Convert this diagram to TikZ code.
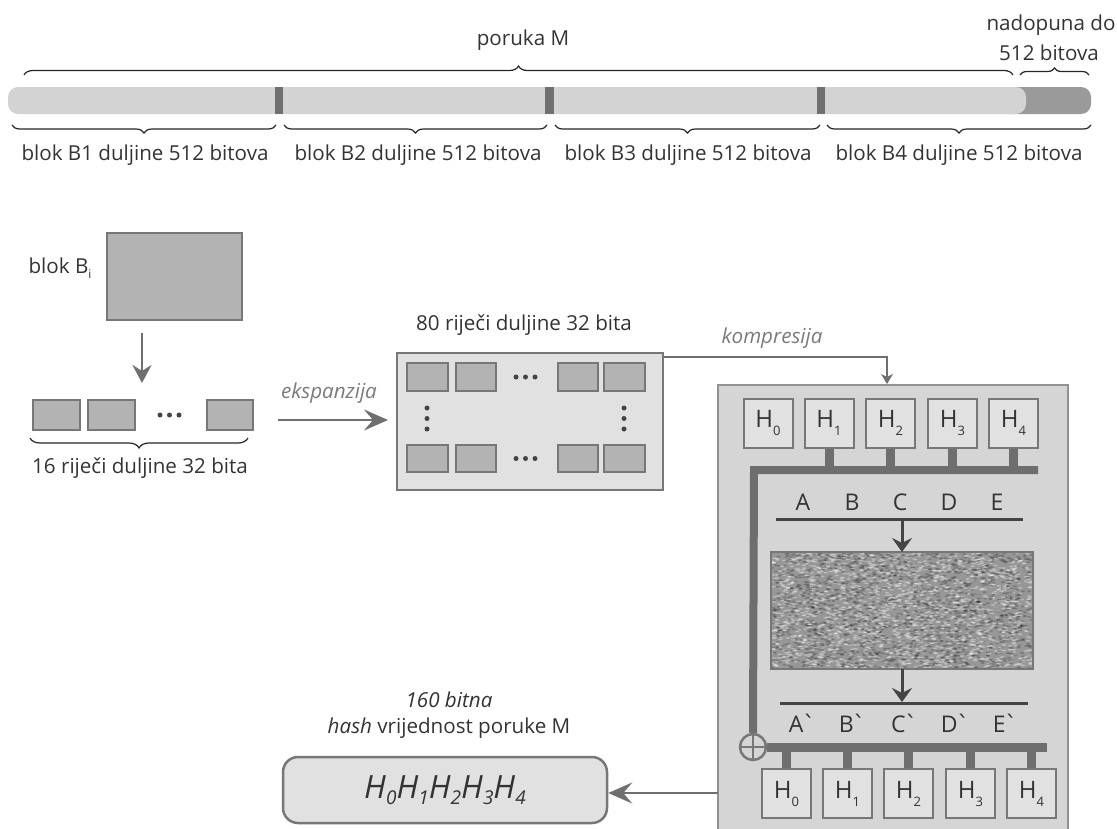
\documentclass[tikz,border=0pt]{standalone}
\usepackage{fontspec}
\setmainfont{Open Sans}
\newfontfamily\djv{DejaVu Sans}
\usetikzlibrary{arrows.meta,decorations.pathreplacing}
\definecolor{txt}{HTML}{333333}
\definecolor{cbar}{HTML}{D3D3D3}
\definecolor{cpad}{HTML}{9A9A9A}
\definecolor{cdiv}{HTML}{707070}
\definecolor{cblk}{HTML}{B3B3B3}
\definecolor{cbrd}{HTML}{777777}
\definecolor{clite}{HTML}{E1E1E1}
\definecolor{ccomp}{HTML}{D5D5D5}
\definecolor{cbus}{HTML}{6E6E6E}
\definecolor{cdark}{HTML}{444444}
\definecolor{carr}{HTML}{6F6F6F}
\definecolor{clab}{HTML}{7A7A7A}
\definecolor{ctex}{HTML}{979797}
\tikzset{
  lbl/.style={text=txt, inner sep=0pt, font=\fontsize{20.6}{24}\selectfont},
  ital/.style={text=clab, inner sep=0pt, font=\fontsize{20.6}{24}\selectfont\itshape},
  word/.style={draw=cbrd, fill=cblk, line width=2pt, inner sep=0pt},
  wlite/.style={draw=cbrd, fill=clite, line width=2pt, inner sep=0pt},
  hbox/.style={draw=cbrd, fill=clite, line width=2pt, inner sep=0pt, minimum width=49pt, minimum height=49pt, text=txt, font=\fontsize{24}{26}\selectfont},
  brc/.style={decorate, decoration={brace, amplitude=#1}, line width=1.2pt, draw=black!85},
  brc/.default=8pt,
  garrow/.style={draw=carr, line width=2.5pt, -{Stealth[length=24pt,width=21pt,inset=9pt]}},
  darrow/.style={draw=carr, line width=2.5pt, -{Stealth[length=18pt,width=19pt,inset=6pt]}},
  karrow/.style={draw=carr, line width=1.5pt, -{Stealth[length=10pt,width=12pt,inset=3pt]}},
  iarrow/.style={draw=cdark, line width=3pt, -{Stealth[length=14pt,width=20pt,inset=5pt]}},
  bus/.style={draw=cbus, line width=8pt},
  stub/.style={draw=cbus, line width=9pt},
  rail/.style={draw=cdark, line width=3pt},
  dot/.style={fill=cdark, circle, inner sep=0pt, minimum size=5pt},
  abc/.style={text=txt, inner sep=0pt, font=\fontsize{23}{26}\selectfont}
}
\newcommand{\Hs}[1]{H\raisebox{-8pt}{\fontsize{13}{13}\selectfont #1}}
\newcommand{\Hi}[1]{\textit{H}\raisebox{-6pt}{\fontsize{19}{19}\selectfont\itshape #1}}
\newcommand{\gr}{{\djv\symbol{"02CB}}}
\begin{document}
\begin{tikzpicture}[x=1pt,y=-1pt]
\useasboundingbox (0,0) rectangle (1117,828);

% ---------- top bar ----------
\fill[cpad, rounded corners=10pt] (1000,87) rectangle (1091,114);
\fill[cbar, rounded corners=10pt] (8,87) rectangle (1026,114);
\fill[cdiv] (275,87) rectangle (283,114);
\fill[cdiv] (545,87) rectangle (554,114);
\fill[cdiv] (817,87) rectangle (825,114);

\node[lbl] (pm) at (523,40) {poruka M};
\node[lbl] (nd) at (1051,25) {nadopuna do};
\node[lbl] (nd2) at (1049,53) {512 bitova};
\draw[brc=9pt] (24,75) -- (1013,75);
\draw[brc=7pt] (1020,75) -- (1089,75);

\draw[brc=8pt] (276,125) -- (12,125);
\draw[brc=8pt] (547,125) -- (284,125);
\draw[brc=8pt] (820,125) -- (555,125);
\draw[brc=8pt] (1091,125) -- (827,125);
\node[lbl] (b1) at (145,155) {blok B1 duljine 512 bitova};
\node[lbl] (b2) at (418,155) {blok B2 duljine 512 bitova};
\node[lbl] (b3) at (688,155) {blok B3 duljine 512 bitova};
\node[lbl] (b4) at (959,155) {blok B4 duljine 512 bitova};

% ---------- block Bi ----------
\node[lbl] (bil) at (60,268) {blok B\raisebox{-5pt}{\fontsize{12}{12}\selectfont i}};
\node[word, minimum width=135pt, minimum height=87pt] (bi) at (174.5,276.5) {};
\coordinate (a1) at (142,333);
\coordinate (a2) at (142,383);
\draw[darrow] (a1) -- (a2);

\node[word, minimum width=47pt, minimum height=30pt] (w1) at (56.5,415) {};
\node[word, minimum width=47pt, minimum height=30pt] (w2) at (111.5,415) {};
\node[word, minimum width=46pt, minimum height=30pt] (w3) at (230,415) {};
\node[dot] (d1) at (160,415) {};
\node[dot] (d2) at (169.5,415) {};
\node[dot] (d3) at (179,415) {};
\draw[brc=10pt] (248,438) -- (30,438);
\node[lbl] (w16) at (140,468) {16 riječi duljine 32 bita};

\node[ital] (eks) at (329,393) {ekspanzija};
\coordinate (e1) at (278,420);
\coordinate (e2) at (388,420);
\draw[garrow] (e1) -- (e2);

% ---------- 80 words ----------
\node[lbl] (w80) at (524,325) {80 riječi duljine 32 bita};
\node[wlite, minimum width=266pt, minimum height=137pt] (bx) at (530,421.5) {};
\foreach \n/\cx/\ww in {1/427.5/41, 2/476/40, 3/578/40, 4/624.5/41}{
  \node[word, minimum width=\ww pt, minimum height=28pt] (t\n) at (\cx,377) {};
  \node[word, minimum width=\ww pt, minimum height=27pt] (u\n) at (\cx,458.5) {};
}
\foreach \yy in {377, 458.5}{
  \node[dot] at (516,\yy) {};
  \node[dot] at (525.5,\yy) {};
  \node[dot] at (535,\yy) {};
}
\foreach \xx in {427,624}{
  \node[dot] at (\xx,408) {};
  \node[dot] at (\xx,418.5) {};
  \node[dot] at (\xx,429) {};
}

% ---------- compression box ----------
\node[draw=cbrd!80, fill=ccomp, line width=2pt, minimum width=350pt, minimum height=450pt, inner sep=0pt] (comp) at (893,610) {};
\node[ital] (kmp) at (772,338) {kompresija};
\coordinate (k1) at (887,357);
\draw[karrow] (bx.east |- k1) -- (k1) -- (k1 |- comp.north);

\foreach \n/\cx in {0/768,1/829,2/890.5,3/952.5,4/1013.5}{
  \node[hbox] (h\n) at (\cx,423) {\Hs{\n}};
}
\foreach \n in {1,2,3,4}{
  \draw[stub] (h\n.south) -- ++(0,22);
}
\node[draw=cbrd, fill=ccomp, line width=2.5pt, circle, minimum size=26pt, inner sep=0pt] (xo) at (753,747) {};
\draw[cbrd, line width=2.5pt] (xo.north) -- (xo.south) (xo.west) -- (xo.east);
\draw[bus] (1038,470) -- (754,470) -- (xo.north);

\node[abc] at (803,502) {A};
\node[abc] at (852,502) {B};
\node[abc] at (900,502) {C};
\node[abc] at (949,502) {D};
\node[abc] at (997,502) {E};
\coordinate (r1a) at (776,519);
\coordinate (r1b) at (1023,519);
\draw[rail] (r1a) -- (r1b);

\node[draw=cbrd, line width=2pt, minimum width=260pt, minimum height=115pt, inner sep=0pt] (tx) at (902,610.5) {};
\begin{scope}
\clip (tx.south west) rectangle (tx.north east);
\fill[ctex] (tx.south west) rectangle (tx.north east);
\pgfmathsetseed{7}
\foreach \i in {1,...,1800}{
  \pgfmathsetmacro\rx{772+260*rnd}
  \pgfmathsetmacro\ry{553+115*rnd}
  \fill[white, opacity=0.35] (\rx,\ry) ellipse (2.2 and 0.8);
  \pgfmathsetmacro\sx{772+260*rnd}
  \pgfmathsetmacro\sy{553+115*rnd}
  \fill[black, opacity=0.2] (\sx,\sy) ellipse (2.0 and 0.9);
}
\end{scope}
\draw[cbrd, line width=2pt] (tx.south west) rectangle (tx.north east);
\draw[iarrow] (902,519) -- (tx.north);

\coordinate (r2a) at (780,703);
\coordinate (r2b) at (1028,703);
\draw[iarrow] (tx.south) -- (902,702);
\draw[rail] (r2a) -- (r2b);
\node[abc] at (802,723) {A\gr};
\node[abc] at (852,723) {B\gr};
\node[abc] at (904,723) {C\gr};
\node[abc] at (955,723) {D\gr};
\node[abc] at (1005,723) {E\gr};

\draw[bus, line width=9pt] (xo.east) -- (1047,747);
\foreach \n/\cx in {0/786.5,1/847.5,2/908.5,3/970.5,4/1031.5}{
  \node[hbox] (g\n) at (\cx,793.5) {\Hs{\n}};
  \draw[stub] (g\n.north) -- (\cx,747);
}

% ---------- hash ----------
\node[ital, text=txt] (l160) at (449,700) {160 bitna};
\node[lbl] (lhash) at (449,728) {\textit{hash} vrijednost poruke M};
\node[draw=cbrd, fill=clite, line width=2.5pt, rounded corners=15pt, minimum width=324pt, minimum height=66pt, inner sep=0pt, text=txt, font=\fontsize{32}{34}\selectfont] (hash) at (445,790) {\Hi{0}\Hi{1}\Hi{2}\Hi{3}\Hi{4}};
\coordinate (hs) at (718,793);
\draw[garrow] (hs) -- (hash.east |- hs);
\end{tikzpicture}
\end{document}
